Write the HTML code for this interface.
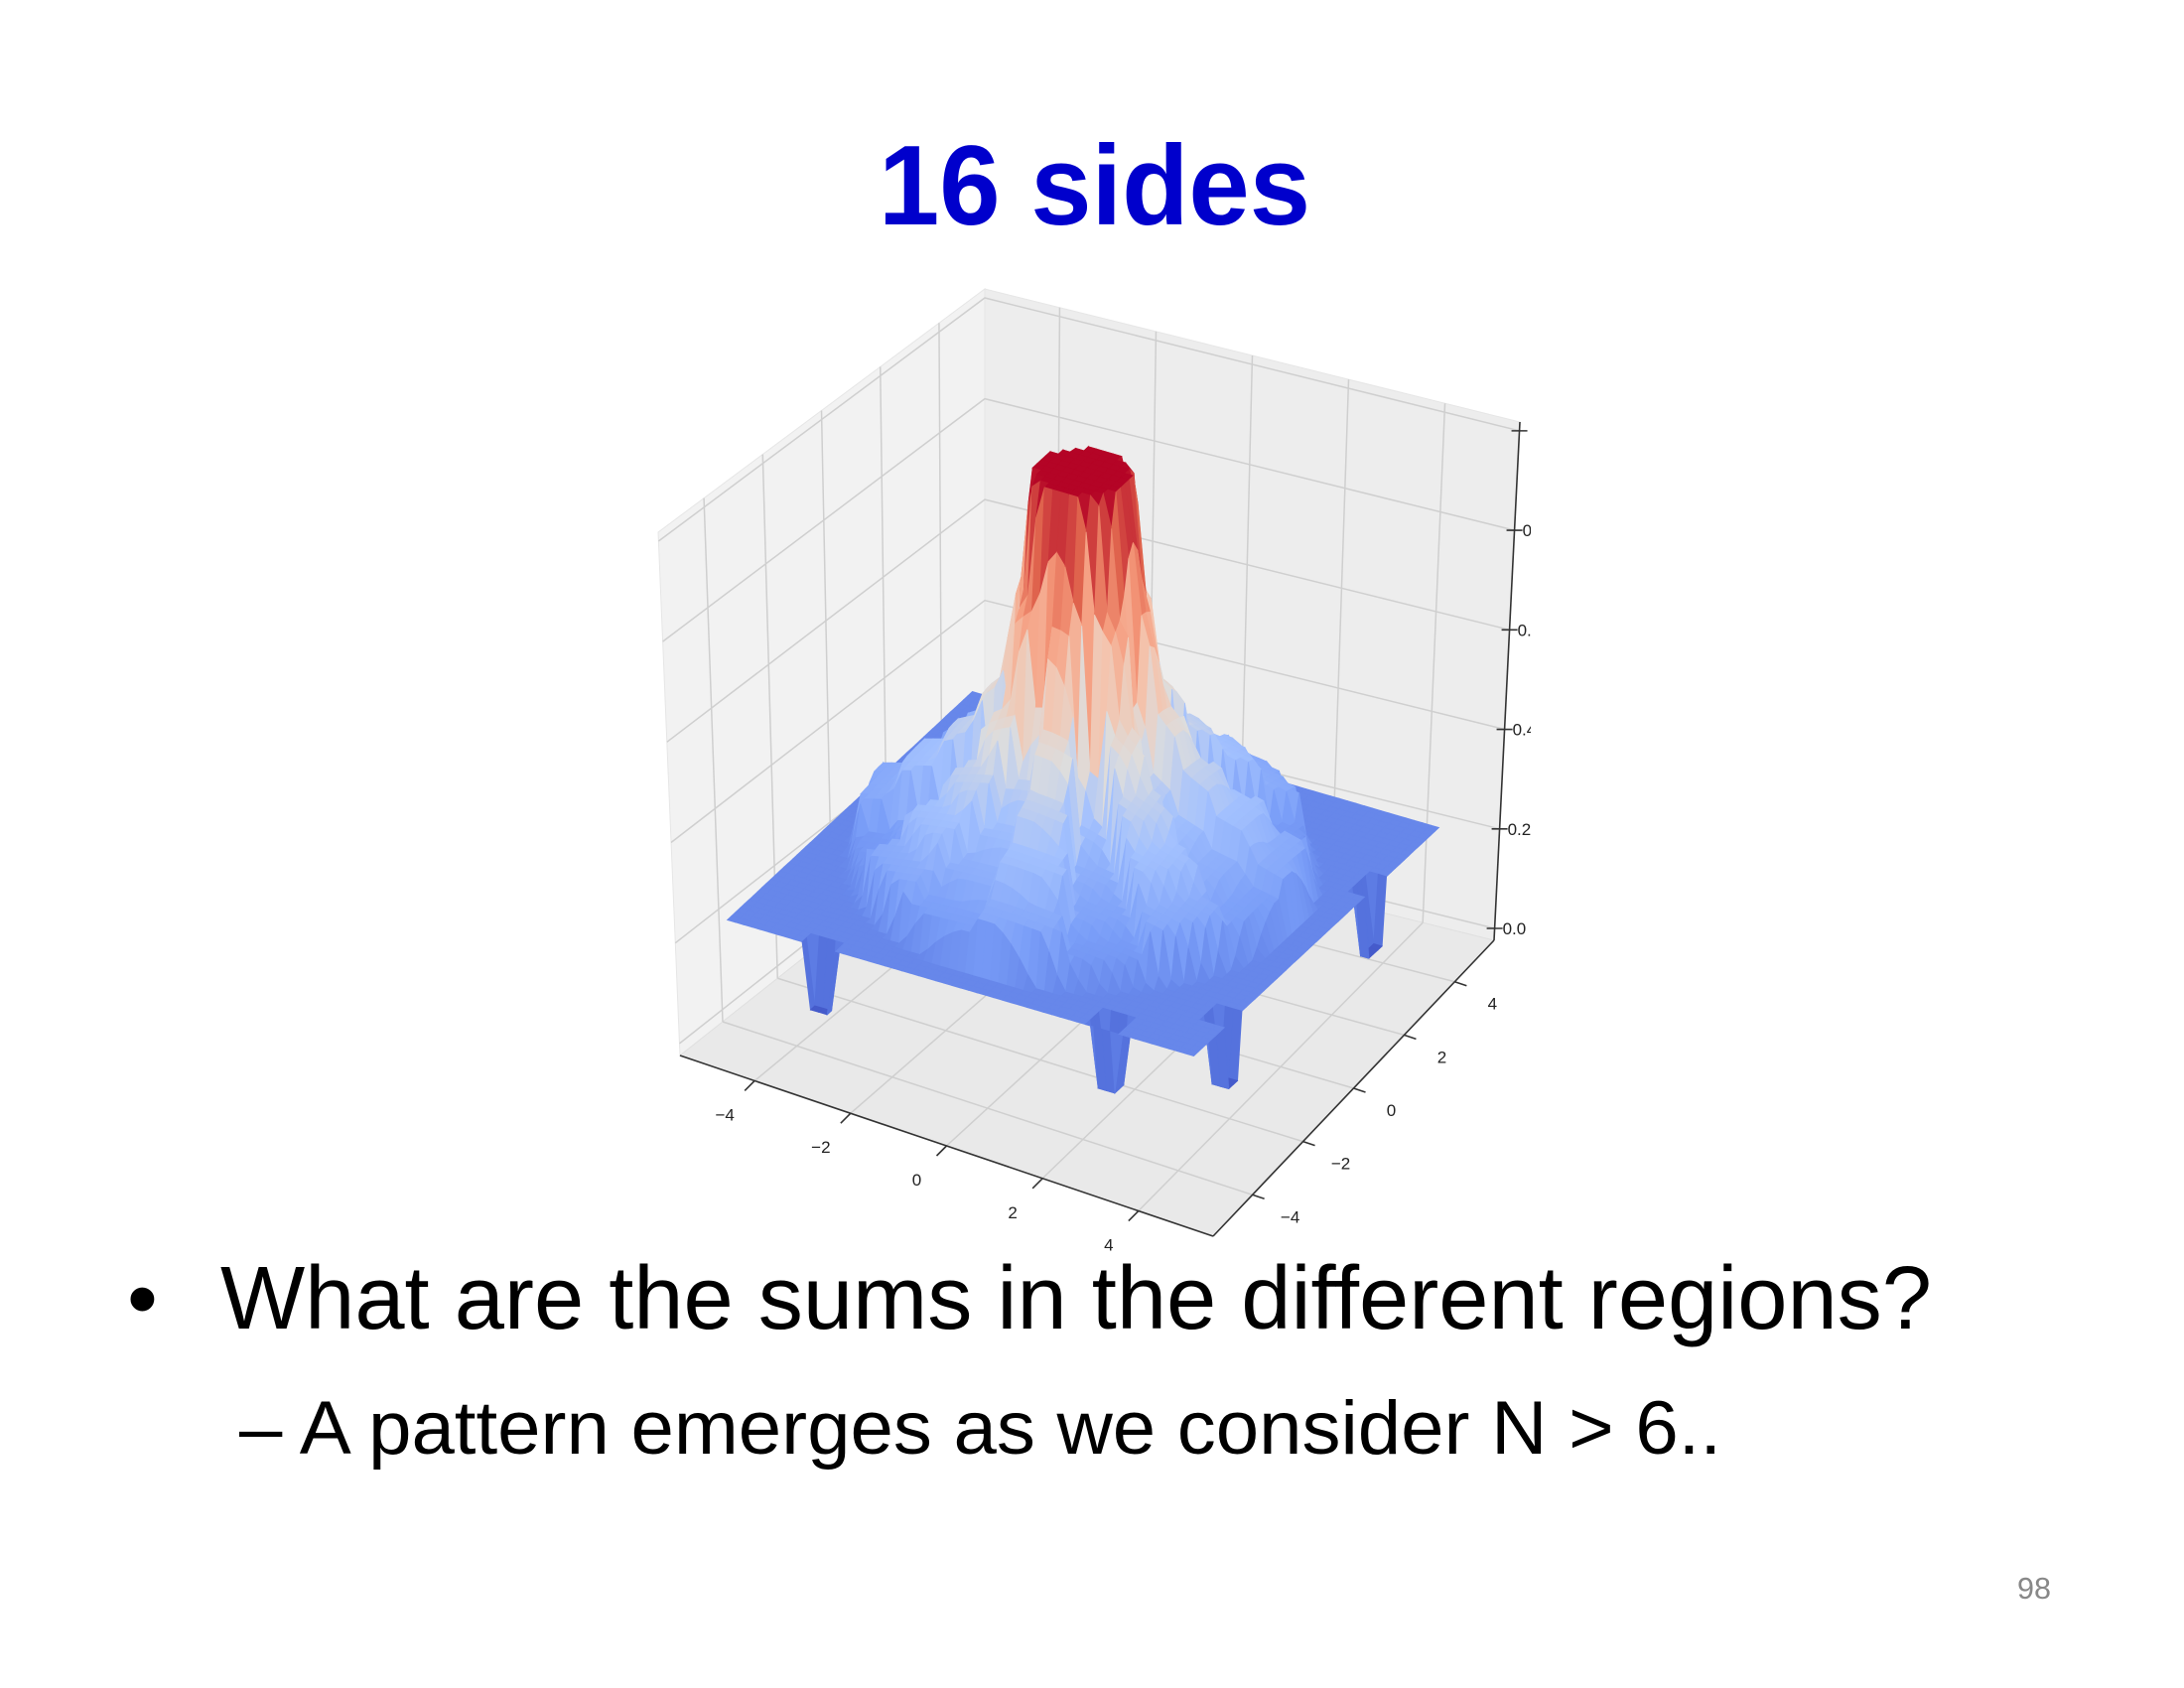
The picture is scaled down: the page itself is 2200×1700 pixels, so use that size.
<!DOCTYPE html>
<html><head><meta charset="utf-8"><title>16 sides</title>
<style>html,body{margin:0;padding:0;background:#fff;}svg{display:block;}</style></head>
<body>
<svg id="slide" width="2200" height="1700" viewBox="0 0 2200 1700" xmlns="http://www.w3.org/2000/svg">
<defs><clipPath id="zclip"><rect x="0" y="0" width="1542" height="1700"/></clipPath></defs>
<text x="885" y="226" textLength="435" lengthAdjust="spacingAndGlyphs" font-family="Liberation Sans, sans-serif" font-weight="bold" font-size="114" fill="#0000CC">16 sides</text>
<g id="chart"></g>
<text x="128" y="1338" font-family="Liberation Sans, sans-serif" font-size="88" fill="#000">•</text>
<text x="222" y="1338" textLength="1724" lengthAdjust="spacingAndGlyphs" font-family="Liberation Sans, sans-serif" font-size="90" fill="#000">What are the sums in the different regions?</text>
<text x="241" y="1464" textLength="1493" lengthAdjust="spacingAndGlyphs" font-family="Liberation Sans, sans-serif" font-size="76" fill="#000">– A pattern emerges as we consider N &gt; 6..</text>
<text x="2032" y="1610" textLength="34" lengthAdjust="spacingAndGlyphs" font-family="Liberation Sans, sans-serif" font-size="31" fill="#888">98</text>
</svg>
<script>
// ---- data ----
const profileR = [0, 1.0, 1.15, 1.4, 1.55, 2.0, 2.15, 2.7, 2.85, 3.5, 3.65, 4.3, 4.45, 5.0];
const profileZ = [1.12, 1.12, 0.85, 0.8, 0.62, 0.57, 0.5, 0.47, 0.42, 0.4, 0.34, 0.32, 0.2, 0.2];
const angularMod = [1, 0.5, 1, 0.7, 1, 0.5, 1, 0.7, 1, 0.5, 1, 0.7, 1, 0.5, 1, 0.7];
const spikeX = [-3, 3, 4.9, 5];
const spikeY = [-5, -4.6, -3.4, 2.4];
const spikeZ = [0.05, 0.05, 0.05, 0.05];
const baseLevel = 0.2;
const xTicks = [-4, -2, 0, 2, 4];
const yTicks = [-4, -2, 0, 2, 4];
const zTicks = [0, 0.2, 0.4, 0.6, 0.8, 1.0];
const zTickLabels = ["0.0", "0.2", "0.4", "0.6", "0.8", ""];

const NS = "http://www.w3.org/2000/svg";
const chart = document.getElementById("chart");
function mk(tag, attrs, parent) {
  const e = document.createElementNS(NS, tag);
  for (const k in attrs) e.setAttribute(k, attrs[k]);
  (parent || chart).appendChild(e);
  return e;
}
const Lf = [685, 1063], Ff = [1222, 1245], Rf = [1505, 947], Bf = [992, 820];
const Lt = [663, 536], Bt = [992, 291], Rt = [1531, 425];
function lerp(a, b, t) { return [a[0] + (b[0] - a[0]) * t, a[1] + (b[1] - a[1]) * t]; }
function pts(a) { return a.map(p => p[0].toFixed(1) + "," + p[1].toFixed(1)).join(" "); }
function tFrac(t) { return 0.05 + 0.9 * (t + 5) / 10; }
function zFrac(z) { return 0.023 + 0.96 * z; }

let e;
e = mk("polygon", { points: pts([Lf, Bf, Bt, Lt]), fill: "#f2f2f2", stroke: "#e6e6e6" });
 
e = mk("polygon", { points: pts([Bf, Rf, Rt, Bt]), fill: "#ededed", stroke: "#e6e6e6" });
 
e = mk("polygon", { points: pts([Lf, Ff, Rf, Bf]), fill: "#e9e9e9", stroke: "#e0e0e0" });
 

const gstyle = { stroke: "#cfcfcf", "stroke-width": 1.5, fill: "none" };
yTicks.forEach(t => {
  const a = lerp(Lf, Bf, tFrac(t)), b = lerp(Lt, Bt, tFrac(t));
  e = mk("line", Object.assign({ x1: a[0], y1: a[1], x2: b[0], y2: b[1] }, gstyle));
   
  const c = lerp(Ff, Rf, tFrac(t));
  e = mk("line", Object.assign({ x1: a[0], y1: a[1], x2: c[0], y2: c[1] }, gstyle));
   
});
xTicks.forEach(t => {
  const a = lerp(Bf, Rf, tFrac(t)), b = lerp(Bt, Rt, tFrac(t));
  e = mk("line", Object.assign({ x1: a[0], y1: a[1], x2: b[0], y2: b[1] }, gstyle));
   
  const c = lerp(Lf, Ff, tFrac(t));
  e = mk("line", Object.assign({ x1: a[0], y1: a[1], x2: c[0], y2: c[1] }, gstyle));
   
});
zTicks.forEach(z => {
  const f = zFrac(z);
  const a = lerp(Lf, Lt, f), b = lerp(Bf, Bt, f), c = lerp(Rf, Rt, f);
  e = mk("polyline", Object.assign({ points: pts([a, b, c]) }, gstyle));
   
});

const C0 = [1091, 880], ex = [47, 13.7], ey = [24.7, -23], ez = -440;
function proj(x, y, z) { return [C0[0] + x * ex[0] + y * ey[0], C0[1] + x * ex[1] + y * ey[1] + (z - baseLevel) * ez]; }
function profile(r) {
  for (let i = 1; i < profileR.length; i++) {
    if (r <= profileR[i]) { const t = (r - profileR[i - 1]) / (profileR[i] - profileR[i - 1]); return profileZ[i - 1] + t * (profileZ[i] - profileZ[i - 1]); }
  }
  return profileZ[profileZ.length - 1];
}
function height(x, y) {
  for (let s = 0; s < spikeX.length; s++) {
    if (Math.abs(x - spikeX[s]) < 0.3 && Math.abs(y - spikeY[s]) < 0.3) return spikeZ[s];
  }
  const r = Math.hypot(x, y);
  let z = profile(r);
  if (r > 1.2) {
    let a = Math.atan2(y, x); if (a < 0) a += 2 * Math.PI;
    const k = Math.floor(a / (2 * Math.PI) * angularMod.length) % angularMod.length;
    z = baseLevel + (z - baseLevel) * angularMod[k];
  }
  return z;
}
const cw = [[0, 58, 76, 192], [0.125, 88, 118, 224], [0.25, 122, 158, 248], [0.375, 163, 193, 254], [0.5, 221, 221, 221], [0.625, 244, 196, 173], [0.75, 245, 153, 123], [0.875, 222, 96, 75], [1, 180, 4, 38]];
function coolwarm(t) {
  t = Math.max(0, Math.min(1, t));
  for (let i = 1; i < cw.length; i++) if (t <= cw[i][0]) {
    const f = (t - cw[i - 1][0]) / (cw[i][0] - cw[i - 1][0]);
    const c = [1, 2, 3].map(j => Math.round(cw[i - 1][j] + f * (cw[i][j] - cw[i - 1][j])));
    return "rgb(" + c.join(",") + ")";
  }
  return "rgb(180,4,38)";
}
const N = 56, step = 10 / N;
const Z = [];
for (let i = 0; i <= N; i++) { Z.push([]); for (let j = 0; j <= N; j++) Z[i].push(height(-5 + i * step, -5 + j * step)); }
const cells = [];
for (let i = 0; i < N; i++) for (let j = 0; j < N; j++) cells.push([i, j]);
cells.sort((a, b) => (a[0] - a[1]) - (b[0] - b[1]));
const surf = mk("g", {});


cells.forEach(([i, j]) => {
  const x0 = -5 + i * step, y0 = -5 + j * step, x1 = x0 + step, y1 = y0 + step;
  const z00 = Z[i][j], z10 = Z[i + 1][j], z11 = Z[i + 1][j + 1], z01 = Z[i][j + 1];
  const p = [proj(x0, y0, z00), proj(x1, y0, z10), proj(x1, y1, z11), proj(x0, y1, z01)];
  const col = coolwarm(((z00 + z10 + z11 + z01) / 4) / 1.12);
  const q = mk("polygon", { points: pts(p), fill: col, stroke: col, "stroke-width": 0.8 }, surf);
  
  
});

const astyle = { stroke: "#333", "stroke-width": 1.6, fill: "none" };
e = mk("line", Object.assign({ x1: Lf[0], y1: Lf[1], x2: Ff[0], y2: Ff[1] }, astyle));
 
e = mk("line", Object.assign({ x1: Ff[0], y1: Ff[1], x2: Rf[0], y2: Rf[1] }, astyle));
 
e = mk("line", Object.assign({ x1: Rf[0], y1: Rf[1], x2: Rt[0], y2: Rt[1] }, astyle));
 
const lbl = { "font-family": "Liberation Sans, sans-serif", "font-size": 17, fill: "#222", "text-anchor": "middle" };
xTicks.forEach(t => {
  const a = lerp(Lf, Ff, tFrac(t));
  e = mk("line", Object.assign({ x1: a[0], y1: a[1], x2: a[0] - 10, y2: a[1] + 10 }, astyle));
   
  e = mk("text", Object.assign({ x: a[0] - 30, y: a[1] + 40 }, lbl));
  e.textContent = String(t).replace("-", "\u2212");
   
});
yTicks.forEach(t => {
  const a = lerp(Ff, Rf, tFrac(t));
  e = mk("line", Object.assign({ x1: a[0], y1: a[1], x2: a[0] + 12, y2: a[1] + 4 }, astyle));
   
  e = mk("text", Object.assign({ x: a[0] + 38, y: a[1] + 28 }, lbl));
  e.textContent = String(t).replace("-", "\u2212");
   
});
const zg = mk("g", { "clip-path": "url(#zclip)" });


zTicks.forEach((z, k) => {
  const a = lerp(Rf, Rt, zFrac(z));
  e = mk("line", Object.assign({ x1: a[0] - 8, y1: a[1], x2: a[0] + 8, y2: a[1] }, astyle), zg);
   
  e = mk("text", { x: a[0] + 8, y: a[1] + 6, "font-family": "Liberation Sans, sans-serif", "font-size": 17, fill: "#222" }, zg);
  e.textContent = zTickLabels[k];
   
});
</script>
</body></html>
